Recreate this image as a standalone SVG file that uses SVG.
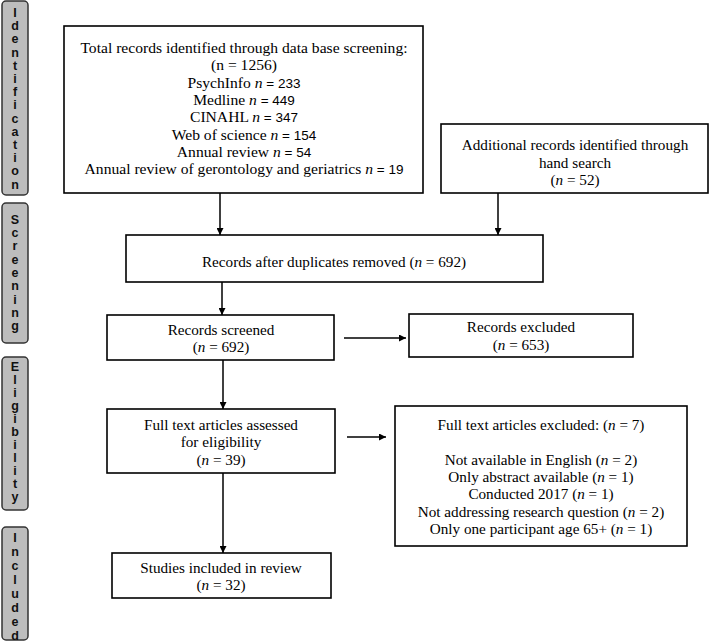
<svg xmlns="http://www.w3.org/2000/svg" width="710" height="642" viewBox="0 0 710 642">
<defs>
<marker id="ah" viewBox="0 0 10 10" refX="10" refY="5" markerWidth="7" markerHeight="7" markerUnits="userSpaceOnUse" orient="auto">
<path d="M0,0 L10,5 L0,10 z" fill="#000"/>
</marker>
</defs>
<style>
.box{fill:#fff;stroke:#000;stroke-width:1.6}
.side{fill:#bdbdbd;stroke:#333;stroke-width:1.5}
.t{font-family:"Liberation Serif","Times New Roman",serif;font-size:15.2px;fill:#000;text-anchor:middle}
.t1{font-size:15.6px}
.s{font-family:"Liberation Sans",Arial,sans-serif}
.i{font-style:italic}
.st{font-family:"Liberation Sans",Arial,sans-serif;font-size:12.5px;font-weight:bold;fill:#111;text-anchor:middle}
.c{stroke:#000;stroke-width:1.5;fill:none;marker-end:url(#ah)}
</style>
<rect width="710" height="642" fill="#fff"/>
<g id="side-identification">
<rect class="side" x="2" y="1" width="26" height="194" rx="4"/>
<text class="st"><tspan x="15" y="17">I</tspan><tspan x="15" y="30">d</tspan><tspan x="15" y="43">e</tspan><tspan x="15" y="57">n</tspan><tspan x="15" y="70">t</tspan><tspan x="15" y="83">i</tspan><tspan x="15" y="96">f</tspan><tspan x="15" y="109">i</tspan><tspan x="15" y="123">c</tspan><tspan x="15" y="136">a</tspan><tspan x="15" y="149">t</tspan><tspan x="15" y="162">i</tspan><tspan x="15" y="175">o</tspan><tspan x="15" y="189">n</tspan></text>
</g>
<g id="side-screening">
<rect class="side" x="2" y="203" width="26" height="140" rx="4"/>
<text class="st"><tspan x="15" y="224">S</tspan><tspan x="15" y="237">c</tspan><tspan x="15" y="250">r</tspan><tspan x="15" y="264">e</tspan><tspan x="15" y="277">e</tspan><tspan x="15" y="290">n</tspan><tspan x="15" y="304">i</tspan><tspan x="15" y="317">n</tspan><tspan x="15" y="330">g</tspan></text>
</g>
<g id="side-eligibility">
<rect class="side" x="2" y="357" width="26" height="153" rx="4"/>
<text class="st"><tspan x="15" y="371">E</tspan><tspan x="15" y="384">l</tspan><tspan x="15" y="397">i</tspan><tspan x="15" y="410">g</tspan><tspan x="15" y="423">i</tspan><tspan x="15" y="436">b</tspan><tspan x="15" y="449">i</tspan><tspan x="15" y="462">l</tspan><tspan x="15" y="475">i</tspan><tspan x="15" y="488">t</tspan><tspan x="15" y="501">y</tspan></text>
</g>
<g id="side-included">
<rect class="side" x="2" y="527" width="26" height="113" rx="4"/>
<text class="st"><tspan x="15" y="542">I</tspan><tspan x="15" y="556">n</tspan><tspan x="15" y="570">c</tspan><tspan x="15" y="584">l</tspan><tspan x="15" y="598">u</tspan><tspan x="15" y="612">d</tspan><tspan x="15" y="626">e</tspan><tspan x="15" y="640">d</tspan></text>
</g>
<g id="connectors">
<line class="c" x1="220" y1="193" x2="220" y2="235"/>
<line class="c" x1="498" y1="193" x2="498" y2="235"/>
<line class="c" x1="222" y1="282" x2="222" y2="315"/>
<line class="c" x1="344" y1="338" x2="406" y2="338"/>
<line class="c" x1="223" y1="360" x2="223" y2="409"/>
<line class="c" x1="347" y1="437" x2="386" y2="437"/>
<line class="c" x1="223" y1="473" x2="223" y2="553"/>
</g>
<g id="n-total">
<rect class="box" x="64" y="26" width="359" height="167"/>
<text class="t t1" x="244" y="53">Total records identified through data base screening:</text>
<text class="t t1" x="244" y="70">(n = 1256)</text>
<text class="t t1" x="244" y="88">PsychInfo <tspan class="i">n</tspan><tspan class="s" font-size="13.5"> = 233</tspan></text>
<text class="t t1" x="244" y="105">Medline <tspan class="i">n</tspan><tspan class="s" font-size="13.5"> = 449</tspan></text>
<text class="t t1" x="244" y="122">CINAHL <tspan class="i">n</tspan><tspan class="s" font-size="13.5"> = 347</tspan></text>
<text class="t t1" x="244" y="140">Web of science <tspan class="i">n</tspan><tspan class="s" font-size="13.5"> = 154</tspan></text>
<text class="t t1" x="244" y="157">Annual review <tspan class="i">n</tspan><tspan class="s" font-size="13.5"> = 54</tspan></text>
<text class="t t1" x="244" y="174">Annual review of gerontology and geriatrics <tspan class="i">n</tspan><tspan class="s" font-size="13.5"> = 19</tspan></text>
</g>
<g id="n-additional">
<rect class="box" x="441" y="124" width="267" height="69"/>
<text class="t" x="575" y="150">Additional records identified through</text>
<text class="t" x="575" y="168">hand search</text>
<text class="t" x="575" y="185">(<tspan class="i">n</tspan> = 52)</text>
</g>
<g id="n-duplicates">
<rect class="box" x="126" y="235" width="417" height="47"/>
<text class="t" x="334" y="267">Records after duplicates removed (<tspan class="i">n</tspan> = 692)</text>
</g>
<g id="n-screened">
<rect class="box" x="107" y="315" width="227" height="45"/>
<text class="t" x="221" y="335">Records screened</text>
<text class="t" x="221" y="352">(<tspan class="i">n</tspan> = 692)</text>
</g>
<g id="n-excluded">
<rect class="box" x="409" y="314" width="224" height="43"/>
<text class="t" x="521" y="332">Records excluded</text>
<text class="t" x="521" y="350">(<tspan class="i">n</tspan> = 653)</text>
</g>
<g id="n-fulltext">
<rect class="box" x="107" y="409" width="228" height="64"/>
<text class="t" x="221" y="430">Full text articles assessed</text>
<text class="t" x="221" y="447">for eligibility</text>
<text class="t" x="221" y="465">(<tspan class="i">n</tspan> = 39)</text>
</g>
<g id="n-ftexcluded">
<rect class="box" x="395" y="406" width="292" height="140"/>
<text class="t" x="541" y="430">Full text articles excluded: (<tspan class="i">n</tspan> = 7)</text>
<text class="t" x="541" y="465">Not available in English (<tspan class="i">n</tspan> = 2)</text>
<text class="t" x="541" y="482">Only abstract available (<tspan class="i">n</tspan> = 1)</text>
<text class="t" x="541" y="499">Conducted 2017 (<tspan class="i">n</tspan> = 1)</text>
<text class="t" x="541" y="517">Not addressing research question (<tspan class="i">n</tspan> = 2)</text>
<text class="t" x="541" y="534">Only one participant age 65+ (<tspan class="i">n</tspan> = 1)</text>
</g>
<g id="n-included">
<rect class="box" x="112" y="553" width="219" height="45"/>
<text class="t" x="221" y="573">Studies included in review</text>
<text class="t" x="221" y="590">(<tspan class="i">n</tspan> = 32)</text>
</g>
</svg>
